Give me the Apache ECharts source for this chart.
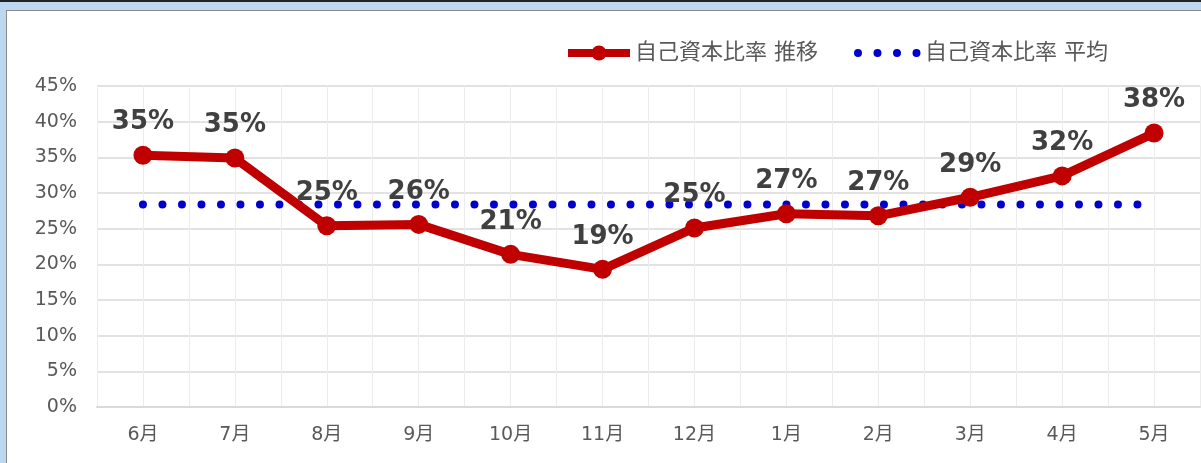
<!DOCTYPE html>
<html>
<head>
<meta charset="utf-8">
<script src="https://cdn.jsdelivr.net/npm/echarts@6/dist/echarts.min.js"></script>
<style>
  html, body { margin: 0; padding: 0; }
  body { width: 1201px; height: 463px; background: #bdd7ee; position: relative; overflow: hidden; }
  #topline { position: absolute; left: 0; top: 0; width: 1201px; height: 2px; background: #222; }
  #frame { position: absolute; left: 6px; top: 10px; width: 1200px; height: 460px; background: #fff;
           border-left: 1px solid #8a8a8a; border-top: 1px solid #8a8a8a; }
  #chart { position: absolute; left: 0; top: 0; width: 1201px; height: 463px; }
</style>
</head>
<body>
<div id="topline"></div>
<div id="frame"></div>
<div id="chart"></div>
<script>
// data
const months = ['6月', '7月', '8月', '9月', '10月', '11月', '12月', '1月', '2月', '3月', '4月', '5月']
const ratio = [35.3, 34.9, 25.4, 25.6, 21.4, 19.3, 25.1, 27.1, 26.8, 29.4, 32.4, 38.4]
const average = [28.4, 28.4, 28.4, 28.4, 28.4, 28.4, 28.4, 28.4, 28.4, 28.4, 28.4, 28.4]
const halfSlots = ['', '', '', '', '', '', '', '', '', '', '', '', '', '', '', '', '', '', '', '', '', '', '', '']

const font = '"DejaVu Sans", "Noto Sans CJK JP", sans-serif'
const red = '#c00000'
const blue = '#0000cc'
const chart = echarts.init(document.getElementById('chart'))

chart.setOption({
  animation: false,
  textStyle: { fontFamily: font },
  legend: {
    top: 37,
    left: 559,
    itemWidth: 62,
    itemHeight: 19,
    itemGap: 36,
    textStyle: { color: '#595959', fontSize: 22, fontFamily: font },
    data: [
      { name: '自己資本比率 推移', lineStyle: { width: 8 } },
      // dotted icon, no marker
      { name: '自己資本比率 平均', lineStyle: { width: 8 }, itemStyle: { opacity: 0 } }
    ]
  },
  grid: { left: 97, top: 86, right: 1, bottom: 56 },
  xAxis: [
    {
      type: 'category',
      data: months,
      boundaryGap: true,
      axisLine: { lineStyle: { color: '#d9d9d9', width: 2 } },
      axisTick: { show: false },
      axisLabel: { color: '#595959', fontSize: 19, margin: 19 },
      splitLine: { show: false }
    },
    {
      // only here for the light vertical grid every half category
      type: 'category',
      data: halfSlots,
      position: 'bottom',
      boundaryGap: true,
      axisLine: { show: false },
      axisTick: { show: false },
      axisLabel: { show: false },
      splitLine: { show: true, lineStyle: { color: '#ececec', width: 1 } }
    }
  ],
  yAxis: {
    type: 'value',
    min: 0,
    max: 45,
    interval: 5,
    axisLine: { show: false },
    axisTick: { show: false },
    axisLabel: { color: '#595959', fontSize: 19, margin: 20, formatter: '{value}%' },
    splitLine: { lineStyle: { color: '#d9d9d9', width: 1.5 } }
  },
  series: [
    {
      name: '自己資本比率 平均',
      type: 'line',
      data: average,
      symbol: 'none',
      z: 2,
      lineStyle: { color: blue, width: 8, type: [0, 19.5], cap: 'round' },
      itemStyle: { color: blue }
    },
    {
      name: '自己資本比率 推移',
      type: 'line',
      data: ratio,
      symbol: 'circle',
      symbolSize: 19,
      z: 3,
      lineStyle: { color: red, width: 9 },
      itemStyle: { color: red },
      label: {
        show: true,
        position: 'top',
        distance: 10,
        color: '#404040',
        fontSize: 26,
        fontWeight: 'bold',
        fontFamily: font,
        formatter: p => Math.round(p.value) + '%'
      }
    }
  ]
})
</script>
</body>
</html>
